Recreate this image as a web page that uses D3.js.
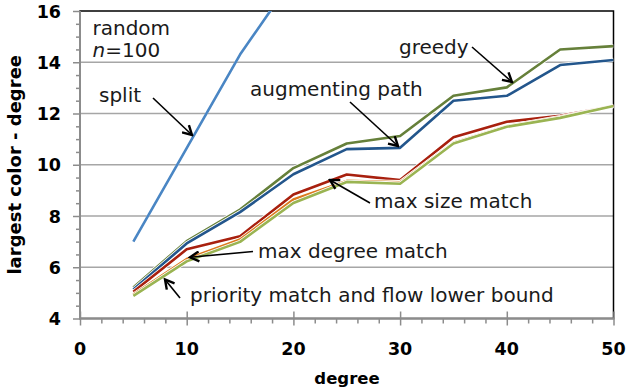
<!DOCTYPE html>
<html>
<head>
<meta charset="utf-8">
<script src="https://cdn.jsdelivr.net/npm/d3@7"></script>
<style>
  html, body { margin: 0; padding: 0; background: #fff; }
  svg { display: block; font-family: "DejaVu Sans", Verdana, sans-serif; }
</style>
</head>
<body>
<svg id="chart" width="629" height="392"></svg>
<script>
// Degree of the random graphs (n = 100)
const degrees = [5, 10, 15, 20, 25, 30, 35, 40, 45, 50];

// Largest colour used minus the degree, per heuristic
const splitValues      = [7.0, 10.65, 14.3, 17.3];
const greedyValues     = [5.21, 7.02, 8.25, 9.87, 10.83, 11.12, 12.69, 13.02, 14.50, 14.63];
const augmentingValues = [5.13, 6.93, 8.15, 9.63, 10.61, 10.66, 12.50, 12.69, 13.89, 14.09];
const maxSizeValues    = [5.04, 6.70, 7.21, 8.84, 9.62, 9.40, 11.07, 11.68, 11.91, 12.29];
const maxDegreeValues  = [4.93, 6.32, 7.08, 8.64, 9.37, 9.32, 10.86, 11.50, 11.86, 12.30];
const priorityValues   = [4.88, 6.23, 6.99, 8.51, 9.33, 9.26, 10.83, 11.48, 11.83, 12.29];

const xTicks = [0, 10, 20, 30, 40, 50];
const yTicks = [4, 6, 8, 10, 12, 14, 16];

const series = [
  { name: "split",             values: splitValues,      color: "#4a86c4" },
  { name: "greedy",            values: greedyValues,     color: "#66803a" },
  { name: "augmenting path",   values: augmentingValues, color: "#23568c" },
  { name: "max size match",    values: maxSizeValues,    color: "#a8200e" },
  { name: "max degree match",  values: maxDegreeValues,  color: "#dc7a1e" },
  { name: "priority match",    values: priorityValues,   color: "#9ab452" }
];

const svg = d3.select("#chart");
const plotLeft = 80, plotRight = 613.5, plotTop = 11, plotBottom = 318.5;

const x = d3.scaleLinear().domain([0, 50]).range([plotLeft, plotRight]);
const y = d3.scaleLinear().domain([4, 16]).range([plotBottom, plotTop]);

// Arrowhead marker for the callouts
const defs = svg.append("defs");
defs.append("marker")
  .attr("id", "arrow")
  .attr("viewBox", "0 0 12 12")
  .attr("refX", 10).attr("refY", 6)
  .attr("markerWidth", 12).attr("markerHeight", 12)
  .attr("markerUnits", "userSpaceOnUse")
  .attr("orient", "auto")
  .append("path")
  .attr("d", "M1,1 L10,6 L1,11")
  .attr("fill", "none")
  .attr("stroke", "#000")
  .attr("stroke-width", 2.4);

defs.append("clipPath").attr("id", "plotClip")
  .append("rect")
  .attr("x", plotLeft).attr("y", plotTop)
  .attr("width", plotRight - plotLeft).attr("height", plotBottom - plotTop);

// Horizontal gridlines
svg.append("g")
  .selectAll("line")
  .data(yTicks.filter(v => v > 4 && v < 16))
  .join("line")
  .attr("x1", plotLeft).attr("x2", plotRight)
  .attr("y1", d => y(d)).attr("y2", d => y(d))
  .attr("stroke", "#a6a6a6")
  .attr("stroke-width", 1.5);

// Plot frame (top and right edges visible)
svg.append("rect")
  .attr("x", plotLeft).attr("y", plotTop)
  .attr("width", plotRight - plotLeft).attr("height", plotBottom - plotTop)
  .attr("fill", "none")
  .attr("stroke", "#000")
  .attr("stroke-width", 1.5);

// Y axis
const yAxis = svg.append("g").attr("transform", `translate(${plotLeft},0)`)
  .call(d3.axisLeft(y).tickValues(d3.range(4, 16.01, 0.5)).tickSize(4).tickFormat(""));
yAxis.selectAll("line").attr("stroke", "#8c8c8c").attr("stroke-width", 1.5);
yAxis.selectAll(".tick").filter(d => d % 2 === 0).select("line").attr("x2", -7);
yAxis.select(".domain").remove();
svg.append("line")
  .attr("x1", plotLeft).attr("x2", plotLeft).attr("y1", plotTop).attr("y2", plotBottom + 1)
  .attr("stroke", "#8c8c8c").attr("stroke-width", 2);

// X axis
const xAxis = svg.append("g").attr("transform", `translate(0,${plotBottom})`)
  .call(d3.axisBottom(x).tickValues(d3.range(0, 50.01, 2)).tickSize(5).tickFormat(""));
xAxis.selectAll("line").attr("stroke", "#8c8c8c").attr("stroke-width", 1.5);
xAxis.selectAll(".tick").filter(d => d % 10 === 0).select("line")
  .attr("y1", -7).attr("y2", 7);
xAxis.select(".domain").remove();
svg.append("line")
  .attr("x1", plotLeft - 1).attr("x2", plotRight + 1).attr("y1", plotBottom).attr("y2", plotBottom)
  .attr("stroke", "#8c8c8c").attr("stroke-width", 2);

// Tick labels
svg.append("g").selectAll("text")
  .data(yTicks).join("text")
  .attr("x", 61).attr("y", d => y(d) + 6.5)
  .attr("text-anchor", "end")
  .attr("font-weight", "bold").attr("font-size", 17.5)
  .text(d => d);

svg.append("g").selectAll("text")
  .data(xTicks).join("text")
  .attr("x", d => x(d)).attr("y", 355)
  .attr("text-anchor", "middle")
  .attr("font-weight", "bold").attr("font-size", 17.5)
  .text(d => d);

// Axis titles
svg.append("text")
  .attr("x", 347).attr("y", 384)
  .attr("text-anchor", "middle")
  .attr("font-weight", "bold").attr("font-size", 16.5)
  .text("degree");

svg.append("text")
  .attr("transform", `translate(21,${(plotTop + plotBottom) / 2}) rotate(-90)`)
  .attr("text-anchor", "middle")
  .attr("font-weight", "bold").attr("font-size", 18)
  .text("largest color - degree");

// Series lines, each with a thin white outline
const line = d3.line().x((d, i) => x(degrees[i])).y(d => y(d));
const lines = svg.append("g").attr("clip-path", "url(#plotClip)");
series.forEach(s => {
  lines.append("path")
    .attr("d", line(s.values))
    .attr("fill", "none")
    .attr("stroke", "#fff")
    .attr("stroke-width", s.name === "split" ? 2.5 : 4.2)
    .attr("stroke-linejoin", "round");
  lines.append("path")
    .attr("d", line(s.values))
    .attr("fill", "none")
    .attr("stroke", s.color)
    .attr("stroke-width", 2.6)
    .attr("stroke-linejoin", "round");
});

// Annotations
const label = (tx, ty, str) => svg.append("text")
  .attr("x", tx).attr("y", ty)
  .attr("font-size", 20).attr("fill", "#1a1a1a")
  .text(str);

label(92.5, 34.5, "random");
const nLabel = svg.append("text").attr("x", 92.5).attr("y", 57)
  .attr("font-size", 20).attr("fill", "#1a1a1a");
nLabel.append("tspan").attr("font-style", "italic").text("n");
nLabel.append("tspan").text("=100");

label(99, 102, "split");
label(250, 96, "augmenting path");
label(399, 54, "greedy");
label(374, 207.5, "max size match");
label(258, 257.5, "max degree match");
label(190, 302, "priority match and flow lower bound");

const arrow = (x1, y1, x2, y2) => svg.append("line")
  .attr("x1", x1).attr("y1", y1).attr("x2", x2).attr("y2", y2)
  .attr("stroke", "#000").attr("stroke-width", 1.6)
  .attr("marker-end", "url(#arrow)");

arrow(153, 98, 192, 135);
arrow(350, 102, 398, 146);
arrow(472, 47, 512, 82);
arrow(370, 203, 330, 180);
arrow(253, 251.5, 190, 257.3);
arrow(180, 298, 165, 279.5);
</script>
</body>
</html>
